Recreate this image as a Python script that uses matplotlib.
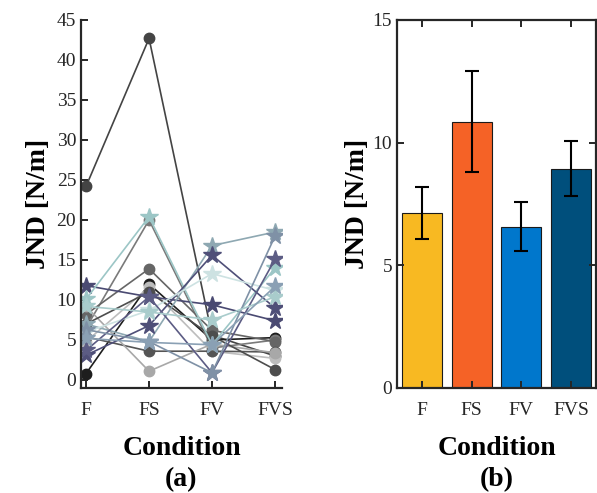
import numpy as np
import matplotlib
matplotlib.use('Agg')
import matplotlib.pyplot as plt

plt.rcParams['font.family'] = ['Liberation Serif', 'DejaVu Serif']
plt.rcParams['mathtext.fontset'] = 'stix'

conditions = ['F', 'FS', 'FV', 'FVS']

# (a) per-subject JND, circle-marked subjects
circle_subjects = [
    [24.2, 42.7, 5.6, 3.0],
    [0.8, 12.0, 5.0, 5.3],
    [6.5, 20.0, 4.0, 5.0],
    [8.2, 13.9, 6.2, 4.8],
    [4.8, 11.6, 3.6, 2.7],
    [5.4, 3.6, 3.6, 3.5],
    [9.2, 1.1, 4.5, 3.4],
    [7.0, 11.0, 5.5, 1.3],
]
circle_colors = ['#444444', '#1e1e1e', '#7a7a7a', '#666666',
                 '#bdbdbd', '#555555', '#a8a8a8', '#4d4d4d']

# (a) per-subject JND, star-marked subjects
star_subjects = [
    [11.8, 10.4, 9.4, 7.4],
    [10.1, 20.4, 4.4, 14.0],
    [7.0, 4.8, 16.8, 18.5],
    [3.1, 6.8, 15.6, 9.0],
    [6.0, 8.7, 13.3, 11.2],
    [3.7, 10.4, 0.9, 15.1],
    [6.3, 4.8, 0.9, 18.0],
    [9.2, 8.5, 7.5, 10.4],
    [5.2, 4.7, 4.4, 11.7],
]
star_colors = ['#4a4a72', '#9cc6c6', '#8ea8b2', '#4f4f78', '#cde2e2',
               '#5c5c84', '#7f91a6', '#a9cccc', '#8aa0b4']

# (b) mean JND and error bar limits
mean_jnd = [7.12, 10.86, 6.58, 8.94]
err_low = [6.06, 8.82, 5.60, 7.83]
err_high = [8.18, 12.91, 7.58, 10.07]
bar_colors = ['#F8B922', '#F56226', '#0077CC', '#004F7C']

fig = plt.figure(figsize=(5.97, 4.93), dpi=100)
ax1 = fig.add_axes([81/597, 1 - 388/493, 201/597, 368/493])
ax2 = fig.add_axes([397/597, 1 - 388/493, 199/597, 368/493])

x = np.arange(1, len(conditions) + 1)

for vals, c in zip(circle_subjects, circle_colors):
    ax1.plot(x, vals, '-o', color=c, lw=1.2, ms=7.5, mec=c, mfc=c)
for vals, c in zip(star_subjects, star_colors):
    ax1.plot(x, vals, '-*', color=c, lw=1.2, ms=13, mec=c, mfc=c)

ax1.set_xlim(0.92, 4.11)
ax1.set_ylim(-1, 45)
ax1.set_yticks(np.arange(0, 46, 5))
ax1.set_xticks(x)
ax1.set_xticklabels(conditions)
ax1.spines['top'].set_visible(False)
ax1.spines['right'].set_visible(False)
for s in ['left', 'bottom']:
    ax1.spines[s].set_linewidth(1.6)
    ax1.spines[s].set_color('#262626')
ax1.tick_params(direction='in', length=5, width=1.4, labelsize=14,
                colors='#262626', labelcolor='#262626')
ax1.tick_params(axis='x', pad=10)
ax1.set_ylabel('JND [N/m]', fontsize=20, fontweight='bold', labelpad=4)
ax1.set_xlabel('Condition', fontsize=20, fontweight='bold', labelpad=12)

lo = np.array(mean_jnd) - np.array(err_low)
hi = np.array(err_high) - np.array(mean_jnd)
ax2.bar(x, mean_jnd, width=0.8, color=bar_colors, edgecolor='#1a1a1a', lw=0.8)
ax2.errorbar(x, mean_jnd, yerr=[lo, hi], fmt='none', ecolor='black',
             elinewidth=1.5, capsize=5, capthick=1.5)
ax2.set_xlim(0.5, 4.5)
ax2.set_ylim(0, 15)
ax2.set_yticks([0, 5, 10, 15])
ax2.set_xticks(x)
ax2.set_xticklabels(conditions)
for s in ax2.spines.values():
    s.set_linewidth(1.6)
    s.set_color('#262626')
ax2.tick_params(direction='in', length=5, width=1.4, labelsize=14,
                top=True, right=True, colors='#262626', labelcolor='#262626')
ax2.tick_params(axis='x', pad=10)
ax2.set_ylabel('JND [N/m]', fontsize=20, fontweight='bold', labelpad=2)
ax2.set_xlabel('Condition', fontsize=20, fontweight='bold', labelpad=12)

fig.text(181/597, 1 - 480/493, '(a)', fontsize=20, fontweight='bold',
         ha='center', va='center')
fig.text(497/597, 1 - 480/493, '(b)', fontsize=20, fontweight='bold',
         ha='center', va='center')

fig.savefig('out.png', dpi=100)
